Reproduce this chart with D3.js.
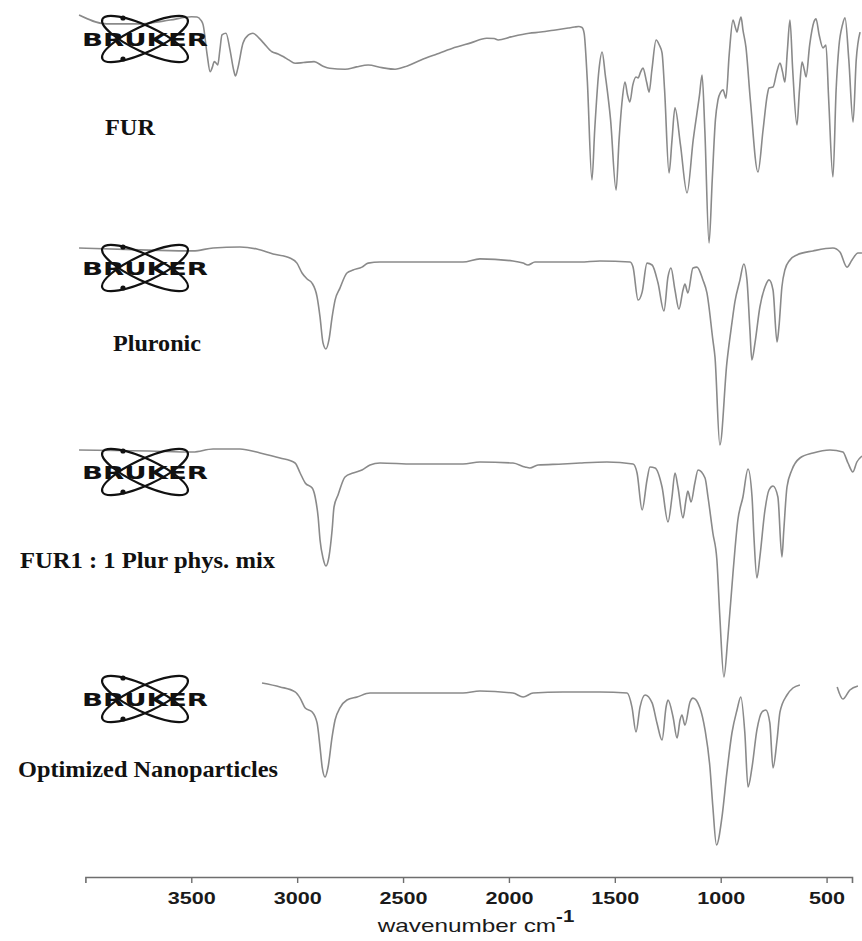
<!DOCTYPE html>
<html>
<head>
<meta charset="utf-8">
<script src="https://cdn.jsdelivr.net/npm/d3@7"></script>
<style>
  html, body { margin: 0; padding: 0; background: #fff; }
  svg { display: block; }
</style>
</head>
<body>
<svg id="chart" width="862" height="941"></svg>
<script>
// ---- data: [wavenumber (cm-1), transmittance (%)] ----
const tickValues = [3500, 3000, 2500, 2000, 1500, 1000, 500];
const sampleNames = ["FUR", "Pluronic", "FUR1 : 1 Plur phys. mix", "Optimized Nanoparticles"];

const furSpectrum = [
  [4030,97.9],[3900,94.2],[3750,94.2],[3600,95.8],[3499,97.2],[3473,97.1],[3455,95.8],[3444,93.8],
  [3425,81.3],[3411,74.3],[3400,76.3],[3392,78.5],[3383,77.9],[3375,77.1],[3365,83.3],[3355,89.6],
  [3336,90.3],[3317,83.3],[3300,75.0],[3291,72.5],[3280,75.8],[3256,86.1],[3230,89.6],[3209,90.3],
  [3180,88.3],[3157,86.1],[3119,82.6],[3090,81.7],[3064,80.5],[3040,79.2],[3010,77.8],[2970,78.1],
  [2920,78.5],[2880,76.7],[2847,75.7],[2774,75.3],[2720,76.3],[2665,77.1],[2600,76.0],[2538,75.3],
  [2480,76.7],[2415,79.2],[2340,81.7],[2269,84.0],[2180,86.3],[2105,88.2],[2070,88.1],[2051,87.5],
  [1990,88.8],[1905,90.3],[1850,90.8],[1780,91.7],[1720,92.5],[1690,92.9],[1671,93.1],[1655,92.7],
  [1645,90.4],[1630,70.8],[1608,29.2],[1595,50.0],[1575,75.0],[1560,82.5],[1545,72.9],[1520,54.2],
  [1494,25.0],[1480,45.8],[1465,62.5],[1452,70.0],[1440,64.6],[1429,61.7],[1415,68.8],[1400,72.1],
  [1390,71.7],[1378,74.2],[1367,75.8],[1350,70.0],[1338,65.8],[1325,75.0],[1305,87.5],[1290,85.4],
  [1277,82.1],[1265,66.7],[1244,32.1],[1230,45.8],[1216,59.2],[1190,43.8],[1159,23.8],[1130,45.8],
  [1100,64.6],[1088,72.9],[1075,50.0],[1055,2.9],[1040,29.2],[1025,54.2],[1013,62.5],[1000,65.8],
  [989,66.7],[975,63.3],[960,81.3],[942,95.8],[930,92.5],[923,90.8],[915,93.8],[904,97.1],
  [895,91.7],[881,84.6],[860,62.5],[824,32.5],[800,50.0],[780,64.6],[772,67.5],[753,67.9],
  [735,74.2],[720,77.9],[708,74.2],[697,70.0],[685,83.3],[673,95.8],[660,75.0],[640,52.1],
  [628,66.7],[616,78.3],[605,75.0],[597,72.1],[580,85.4],[560,95.0],[550,96.3],[535,89.6],
  [517,84.2],[503,85.4],[490,62.5],[470,30.4],[455,66.7],[442,84.6],[425,93.8],[413,96.7],
  [395,79.2],[375,53.3],[360,79.2],[342,90.8]
];

const pluronicSpectrum = [
  [4030,96.2],[3700,95.2],[3492,94.8],[3397,96.2],[3270,96.7],[3190,95.7],[3114,93.3],[3034,91.4],
  [3001,89.0],[2977,84.3],[2953,81.4],[2930,79.5],[2906,72.9],[2892,63.3],[2878,51.0],[2864,48.1],
  [2850,52.4],[2835,63.3],[2821,71.4],[2798,77.1],[2765,84.3],[2736,85.7],[2694,87.1],[2665,89.0],
  [2609,89.5],[2453,89.5],[2217,89.5],[2137,91.0],[1981,90.0],[1933,89.0],[1910,88.1],[1877,89.5],
  [1745,89.5],[1664,89.5],[1570,90.0],[1428,89.5],[1414,87.1],[1390,71.4],[1371,75.2],[1348,89.0],
  [1324,88.1],[1296,79.5],[1268,66.2],[1249,82.4],[1235,86.7],[1216,76.2],[1197,67.1],[1178,76.2],
  [1169,79.0],[1155,74.8],[1131,86.7],[1112,87.1],[1084,81.0],[1065,74.8],[1037,52.4],[1027,44.3],
  [1004,2.4],[971,41.4],[947,60.5],[933,70.5],[909,81.0],[891,88.6],[876,81.0],[862,57.1],
  [853,42.9],[838,51.0],[815,68.1],[791,77.6],[772,81.0],[753,76.2],[734,51.4],[725,58.6],
  [711,77.6],[697,85.7],[673,90.5],[640,92.9],[564,94.8],[470,96.2],[437,94.3],[404,87.1],
  [380,90.5],[352,93.8],[333,93.8]
];

const mixSpectrum = [
  [4030,96.0],[3700,95.6],[3492,95.2],[3397,96.4],[3270,96.4],[3175,94.8],[3081,92.8],[3010,90.8],
  [2986,86.8],[2962,82.8],[2929,80.8],[2915,77.2],[2901,69.2],[2892,60.0],[2878,52.8],[2864,49.6],
  [2850,53.2],[2835,64.0],[2826,73.2],[2807,78.0],[2774,85.2],[2736,86.8],[2694,88.0],[2656,90.0],
  [2609,90.8],[2453,90.4],[2217,90.4],[2137,91.2],[1981,90.8],[1924,89.2],[1901,88.8],[1863,90.0],
  [1745,90.4],[1664,90.8],[1537,91.2],[1414,90.4],[1395,86.8],[1371,72.0],[1348,84.0],[1334,89.2],
  [1310,88.8],[1277,81.2],[1249,67.2],[1230,77.2],[1216,86.8],[1202,81.2],[1178,68.8],[1164,76.0],
  [1155,79.6],[1140,75.2],[1122,82.8],[1107,88.0],[1074,84.8],[1060,77.2],[1037,62.8],[1018,52.0],
  [1004,29.2],[985,5.2],[966,21.2],[942,46.8],[919,68.0],[895,77.2],[871,88.4],[852,77.2],
  [843,61.2],[829,44.8],[815,53.2],[791,72.0],[772,80.0],[753,81.6],[730,77.2],[711,53.2],
  [702,64.0],[687,81.2],[664,88.0],[626,92.8],[564,94.8],[484,96.0],[423,95.2],[399,90.8],
  [376,87.2],[357,91.2],[333,93.6]
];

// recorded in two pieces; the null entry marks the missing stretch
const nanoSpectrum = [
  [3166,92.8],[3081,90.6],[3010,87.8],[2986,84.4],[2962,78.9],[2929,76.7],[2906,70.6],[2892,57.2],
  [2882,46.1],[2868,40.6],[2854,46.1],[2835,62.8],[2821,72.2],[2798,78.9],[2765,83.3],[2717,85.0],
  [2656,87.2],[2528,87.2],[2217,87.2],[2137,88.3],[1981,87.2],[1933,85.0],[1886,87.2],[1745,87.8],
  [1664,87.8],[1570,87.8],[1442,87.2],[1419,79.4],[1400,65.6],[1381,79.4],[1357,86.1],[1324,81.7],
  [1301,70.6],[1277,61.1],[1258,79.4],[1249,83.3],[1225,73.9],[1206,62.2],[1192,72.2],[1183,75.0],
  [1169,69.4],[1145,82.2],[1131,84.4],[1098,78.9],[1074,66.7],[1051,46.1],[1037,23.9],[1020,2.8],
  [994,18.3],[971,42.8],[947,65.0],[923,77.8],[905,85.0],[886,65.0],[871,35.0],[852,46.1],
  [829,66.7],[805,76.7],[787,77.8],[768,70.6],[753,45.6],[734,61.1],[720,76.7],[687,86.1],
  [659,90.0],[626,91.7],[540,null],[450,90.6],[423,83.9],[390,88.9],[352,91.1]
];

const spectra = [furSpectrum, pluronicSpectrum, mixSpectrum, nanoSpectrum];

// ---- layout ----
const W = 862, H = 941;
const axisY = 877;
const panels = [
  { top: 10,  bottom: 250, logoY: 39,  label: { x: 105, y: 135, len: 50 } },
  { top: 240, bottom: 450, logoY: 268, label: { x: 113, y: 351, len: 88 } },
  { top: 440, bottom: 690, logoY: 472, label: { x: 20,  y: 568, len: 255 } },
  { top: 670, bottom: 850, logoY: 699, label: { x: 18,  y: 777, len: 260 } }
];

const svg = d3.select("#chart");
svg.append("rect").attr("width", W).attr("height", H).attr("fill", "#fff");

const x = d3.scaleLinear().domain([4000, 380]).range([85.4, 852]);

// spectra traces
panels.forEach((p, i) => {
  const y = d3.scaleLinear().domain([0, 100]).range([p.bottom, p.top]);
  const line = d3.line()
    .defined(d => d[1] != null)
    .x(d => x(d[0]))
    .y(d => y(d[1]))
    .curve(d3.curveMonotoneX);
  svg.append("path")
    .datum(spectra[i])
    .attr("d", line)
    .attr("fill", "none")
    .attr("stroke", "#8a8a8a")
    .attr("stroke-width", 1.6)
    .attr("stroke-linejoin", "round");
});

// instrument logo drawn in each panel
function drawLogo(cx, cy) {
  const g = svg.append("g").attr("transform", `translate(${cx},${cy})`);
  [25, -25].forEach(a => {
    g.append("ellipse")
      .attr("rx", 47).attr("ry", 13)
      .attr("transform", `rotate(${a})`)
      .attr("fill", "none").attr("stroke", "#111").attr("stroke-width", 2.2);
  });
  [[-22, -21], [-22, 20]].forEach(([dx, dy]) => {
    g.append("circle").attr("cx", dx).attr("cy", dy).attr("r", 2.6).attr("fill", "#111");
  });
  g.append("text")
    .attr("x", -63).attr("y", 7)
    .attr("textLength", 126)
    .attr("lengthAdjust", "spacingAndGlyphs")
    .attr("font-family", "DejaVu Sans")
    .attr("font-weight", "bold")
    .attr("font-size", 17)
    .attr("fill", "#111")
    .text("BRUKER");
}
panels.forEach(p => drawLogo(145, p.logoY));

// sample labels
panels.forEach((p, i) => {
  svg.append("text")
    .attr("x", p.label.x).attr("y", p.label.y)
    .attr("textLength", p.label.len)
    .attr("lengthAdjust", "spacingAndGlyphs")
    .attr("font-family", "Liberation Serif")
    .attr("font-weight", "bold")
    .attr("font-size", 24)
    .attr("fill", "#111")
    .text(sampleNames[i]);
});

// wavenumber axis
const axis = d3.axisBottom(x)
  .tickValues(tickValues)
  .tickSize(6)
  .tickSizeOuter(6)
  .tickFormat(d3.format("d"));
const ax = svg.append("g").attr("transform", `translate(0,${axisY})`).call(axis);
ax.select(".domain").attr("stroke", "#6e6e6e").attr("stroke-width", 1.6);
ax.selectAll(".tick line").attr("stroke", "#6e6e6e").attr("stroke-width", 1.4);
ax.selectAll(".tick text")
  .attr("y", 27).attr("dy", null)
  .attr("transform", "scale(1.27,1)")
  .attr("font-family", "Liberation Sans, Arial, sans-serif")
  .attr("font-weight", "bold")
  .attr("font-size", 17)
  .attr("fill", "#1a1a1a");

const xl = svg.append("g").attr("transform", "translate(476,932) scale(1.28,1)");
const xt = xl.append("text")
  .attr("text-anchor", "middle")
  .attr("font-family", "Liberation Sans, Arial, sans-serif")
  .attr("font-size", 19)
  .attr("fill", "#1a1a1a");
xt.append("tspan").text("wavenumber cm");
xt.append("tspan").attr("dy", -10).attr("font-size", 16).attr("font-weight", "bold").text("-1");
</script>
</body>
</html>
